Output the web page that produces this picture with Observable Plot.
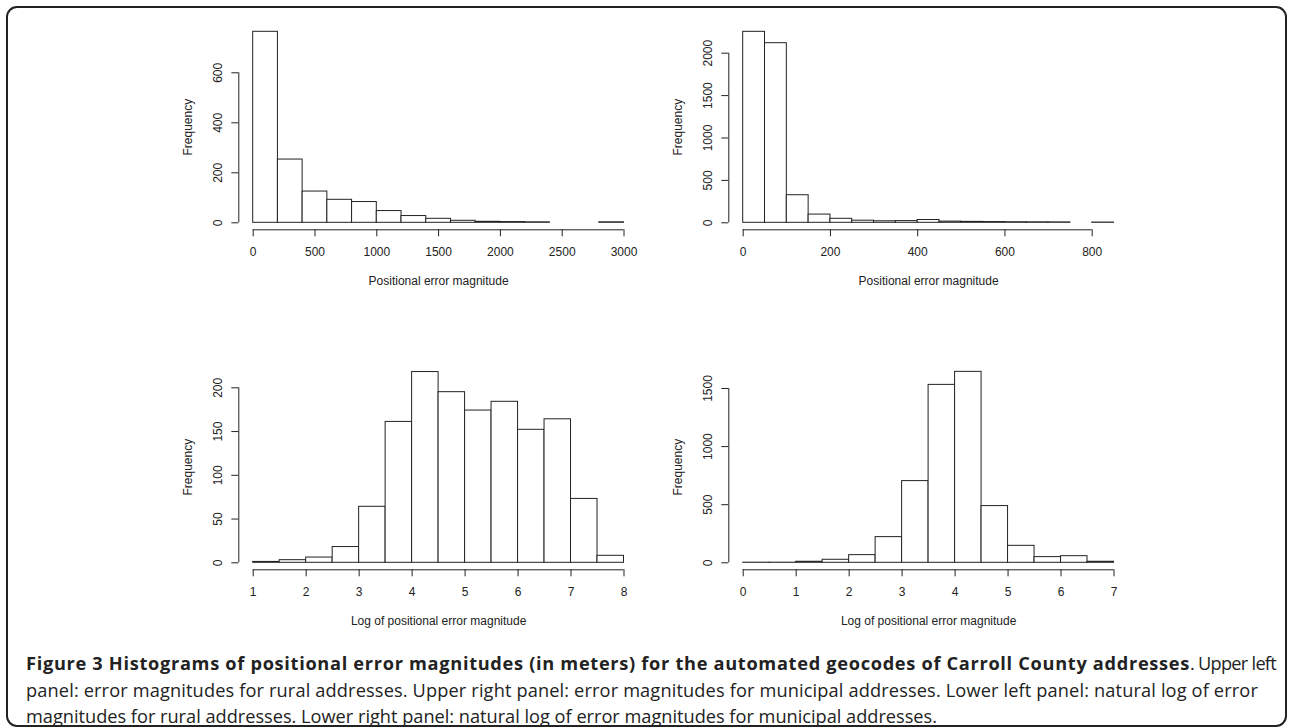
<!DOCTYPE html>
<html>
<head>
<meta charset="utf-8">
<script src="https://cdn.jsdelivr.net/npm/d3@7"></script>
<script src="https://cdn.jsdelivr.net/npm/@observablehq/plot@0.6"></script>
<style>
  html, body { margin: 0; padding: 0; background: #fff; }
  body { width: 1290px; height: 727px; position: relative; overflow: hidden; }
  #frame { position: absolute; left: 6px; top: 6px; width: 1281px; height: 721px; border: 2px solid #222; border-radius: 11px; box-sizing: border-box; }
  .panel { position: absolute; }
  #caption { position: absolute; left: 26px; top: 650px; font-family: "Open Sans", sans-serif; font-size: 18.2px; line-height: 26.5px; color: #222; white-space: nowrap; }
  #caption b { font-weight: 700; }
</style>
</head>
<body>
<div id="frame"></div>
<div id="p1" class="panel" style="left:170px;top:0px"></div>
<div id="p2" class="panel" style="left:660px;top:0px"></div>
<div id="p3" class="panel" style="left:170px;top:330px"></div>
<div id="p4" class="panel" style="left:660px;top:330px"></div>
<div id="caption">
  <div class="line"><b class="fit" data-w="1164">Figure 3 Histograms of positional error magnitudes (in meters) for the automated geocodes of Carroll County addresses</b><span class="fit" data-w="86">. Upper left</span></div>
  <div class="line"><span class="fit" data-w="1232">panel: error magnitudes for rural addresses. Upper right panel: error magnitudes for municipal addresses. Lower left panel: natural log of error</span></div>
  <div class="line"><span class="fit" data-w="911">magnitudes for rural addresses. Lower right panel: natural log of error magnitudes for municipal addresses.</span></div>
</div>
<script>
// ---- Data ----
// Upper left: rural error magnitudes (bins of 200 m)
const ruralBreaks = [0, 200, 400, 600, 800, 1000, 1200, 1400, 1600, 1800, 2000, 2200, 2400, 2600, 2800, 3000];
const ruralCounts = [764, 253, 125, 92, 83, 47, 27, 16, 8, 4, 3, 2, 0, 0, 2];
const ruralXTicks = [0, 500, 1000, 1500, 2000, 2500, 3000];
const ruralYTicks = [0, 200, 400, 600];

// Upper right: municipal error magnitudes (bins of 50 m)
const muniBreaks = [0, 50, 100, 150, 200, 250, 300, 350, 400, 450, 500, 550, 600, 650, 700, 750, 800, 850];
const muniCounts = [2252, 2118, 325, 97, 47, 25, 18, 20, 33, 14, 11, 9, 7, 6, 5, 0, 3];
const muniXTicks = [0, 200, 400, 600, 800];
const muniYTicks = [0, 500, 1000, 1500, 2000];

// Lower left: log of rural error magnitudes
const logRuralBreaks = [1, 1.5, 2, 2.5, 3, 3.5, 4, 4.5, 5, 5.5, 6, 6.5, 7, 7.5, 8];
const logRuralCounts = [1, 3, 6, 18, 64, 161, 218, 195, 174, 184, 152, 164, 73, 8];
const logRuralXTicks = [1, 2, 3, 4, 5, 6, 7, 8];
const logRuralYTicks = [0, 50, 100, 150, 200];

// Lower right: log of municipal error magnitudes
const logMuniBreaks = [0, 0.5, 1, 1.5, 2, 2.5, 3, 3.5, 4, 4.5, 5, 5.5, 6, 6.5, 7];
const logMuniCounts = [1, 1, 9, 26, 66, 221, 703, 1531, 1643, 488, 146, 49, 57, 9];
const logMuniXTicks = [0, 1, 2, 3, 4, 5, 6, 7];
const logMuniYTicks = [0, 500, 1000, 1500];

const xLabelTop = "Positional error magnitude";
const xLabelBottom = "Log of positional error magnitude";
const yLabel = "Frequency";

// ---- Drawing ----
const ink = "#222";
const font = "'Liberation Sans', Arial, Helvetica, sans-serif";

function histogram({breaks, counts, xTicks, yTicks, xDomain, yMax, xLabel, marginBottom, xLabelDy, yLabelDy}) {
  const bins = counts.map((c, i) => ({x1: breaks[i], x2: breaks[i + 1], count: c}));
  return Plot.plot({
    width: 480,
    height: 300,
    marginLeft: 82.7,
    marginRight: 26.5,
    marginTop: 22.3,
    marginBottom,
    style: {fontFamily: font, fontSize: "12px", color: ink, background: "transparent", overflow: "visible"},
    x: {domain: xDomain},
    y: {domain: [0, yMax]},
    marks: [
      Plot.rectY(bins, {x1: "x1", x2: "x2", y: "count", fill: "white", stroke: ink, strokeWidth: 1, inset: 0}),
      // R-style detached axes
      Plot.ruleY([0], {x1: xTicks[0], x2: xTicks[xTicks.length - 1], dy: 7, stroke: ink, strokeWidth: 1}),
      Plot.axisX({ticks: xTicks, tickSize: 7, dy: 7, tickPadding: 11, tickFormat: d => String(d), stroke: ink, fill: ink, label: null}),
      Plot.ruleX([xDomain[0]], {y1: yTicks[0], y2: yTicks[yTicks.length - 1], dx: -14.4, stroke: ink, strokeWidth: 1}),
      Plot.axisY({ticks: yTicks, tickSize: 7, dx: -14.4, tickPadding: 10, tickRotate: -90, tickFormat: d => String(d), stroke: ink, fill: ink, label: null}),
      Plot.text([xLabel], {frameAnchor: "bottom", dy: xLabelDy, textAnchor: "middle", lineAnchor: "middle", fill: ink, fontSize: 12}),
      Plot.text([yLabel], {frameAnchor: "left", dx: -64.7, dy: yLabelDy, rotate: -90, textAnchor: "middle", lineAnchor: "middle", fill: ink, fontSize: 12})
    ]
  });
}

document.getElementById("p1").append(histogram({
  breaks: ruralBreaks, counts: ruralCounts, xTicks: ruralXTicks, yTicks: ruralYTicks,
  xDomain: [0, 3000], yMax: 800, xLabel: xLabelTop, marginBottom: 77.7, xLabelDy: 58.7, yLabelDy: 4.4
}));
document.getElementById("p2").append(histogram({
  breaks: muniBreaks, counts: muniCounts, xTicks: muniXTicks, yTicks: muniYTicks,
  xDomain: [0, 850], yMax: 2358.5, xLabel: xLabelTop, marginBottom: 77.7, xLabelDy: 58.7, yLabelDy: 4.4
}));
document.getElementById("p3").append(histogram({
  breaks: logRuralBreaks, counts: logRuralCounts, xTicks: logRuralXTicks, yTicks: logRuralYTicks,
  xDomain: [1, 8], yMax: 240, xLabel: xLabelBottom, marginBottom: 67.7, xLabelDy: 58.7, yLabelDy: 9.4
}));
document.getElementById("p4").append(histogram({
  breaks: logMuniBreaks, counts: logMuniCounts, xTicks: logMuniXTicks, yTicks: logMuniYTicks,
  xDomain: [0, 7], yMax: 1807, xLabel: xLabelBottom, marginBottom: 67.7, xLabelDy: 58.7, yLabelDy: 9.4
}));

// Fit caption line widths to the reference layout via letter-spacing
document.querySelectorAll("#caption .fit").forEach(el => {
  const target = +el.dataset.w;
  const w = el.getBoundingClientRect().width;
  const n = el.textContent.length;
  el.style.letterSpacing = ((target - w) / n).toFixed(3) + "px";
});
</script>
</body>
</html>
